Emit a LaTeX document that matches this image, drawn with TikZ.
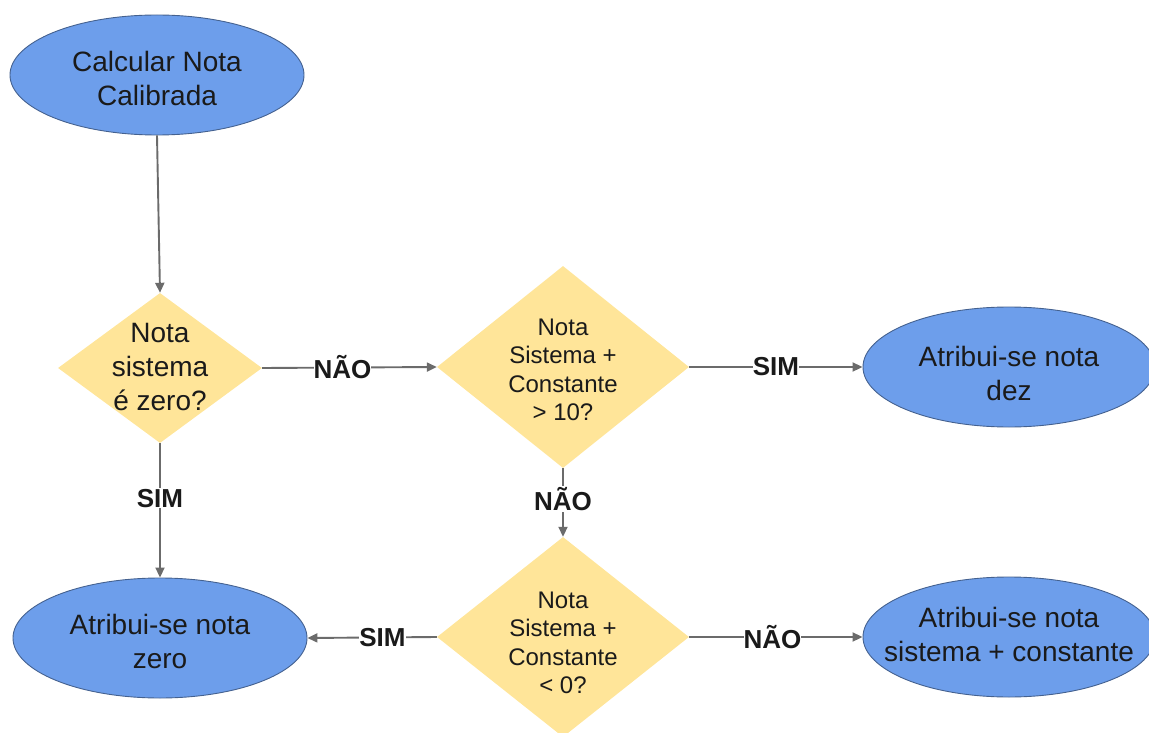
\documentclass[tikz,border=0pt]{standalone}
\usepackage{fontspec}
\setmainfont{Liberation Sans}
\usetikzlibrary{shapes.geometric,arrows.meta}
\definecolor{ovalfill}{HTML}{6D9EEB}
\definecolor{ovalline}{HTML}{44618F}
\definecolor{decfill}{HTML}{FFE599}
\definecolor{flowline}{HTML}{6B6B6B}
\definecolor{ink}{HTML}{1A1A1A}
\tikzset{
  oval/.style={ellipse, fill=ovalfill, draw=ovalline, line width=0.9pt,
    minimum width=294pt, minimum height=120pt, inner sep=0pt},
  decision/.style={diamond, fill=decfill, draw=none, inner sep=0pt},
  bigtext/.style={align=center, inner sep=0pt, text=ink,
    font=\fontsize{28}{34}\selectfont},
  smalltext/.style={align=center, inner sep=0pt, text=ink,
    font=\fontsize{24}{28.5}\selectfont},
  flow/.style={draw=flowline, line width=1.9pt,
    -{Triangle[length=10pt,width=9pt]}},
  answer/.style={fill=white, inner xsep=0pt, inner ysep=1pt, text=ink,
    font=\bfseries\fontsize{26}{30}\selectfont}
}
\begin{document}
\begin{tikzpicture}[x=1pt,y=-1pt]
\useasboundingbox (0,0) rectangle (1149,733);

% start / end ovals
\node[oval] (calc) at (157,75) {};
\node[bigtext] (calcT) at ([yshift=-3pt]calc.center) {Calcular Nota\\Calibrada};

\node[oval] (zero) at (160,638) {};
\node[bigtext] (zeroT) at ([yshift=-3pt]zero.center) {Atribui-se nota\\zero};

\node[oval, minimum width=292pt] (dez) at (1009,367) {};
\node[bigtext] (dezT) at ([yshift=-6pt]dez.center) {Atribui-se nota\\dez};

\node[oval, minimum width=292pt] (soma) at (1009,637) {};
\node[bigtext] (somaT) at ([yshift=3pt]soma.center) {Atribui-se nota\\sistema + constante};

% decisions
\node[decision, minimum width=204pt, minimum height=150pt] (q1) at (160,368) {};
\node[bigtext] (q1T) at ([yshift=1pt]q1.center) {Nota\\sistema\\é zero?};

\node[decision, minimum width=252pt, minimum height=202pt] (q2) at (563,367) {};
\node[smalltext] (q2T) at ([yshift=-3pt]q2.center) {Nota\\Sistema +\\Constante\\> 10?};

\node[decision, minimum width=252pt, minimum height=200pt] (q3) at (563,637) {};
\node[smalltext] (q3T) at ([yshift=-6pt]q3.center) {Nota\\Sistema +\\Constante\\< 0?};

% connectors
\draw[flow] (calc.south) -- (q1.north);
\draw[flow] (q1.east) -- node[answer, pos=0.46] (l1) {NÃO} (q2.west);
\draw[flow] (q2.east) -- node[answer, pos=0.5] (l2) {SIM} (dez.west);
\draw[flow] (q1.south) -- node[answer, pos=0.41] (l3) {SIM} (zero.north);
\draw[flow] (q2.south) -- node[answer, pos=0.45] (l4) {NÃO} (q3.north);
\draw[flow] (q3.west) -- node[answer, pos=0.42] (l5) {SIM} (zero.east);
\draw[flow] (q3.east) -- node[answer, pos=0.48] (l6) {NÃO} (soma.west);
\end{tikzpicture}
\end{document}
